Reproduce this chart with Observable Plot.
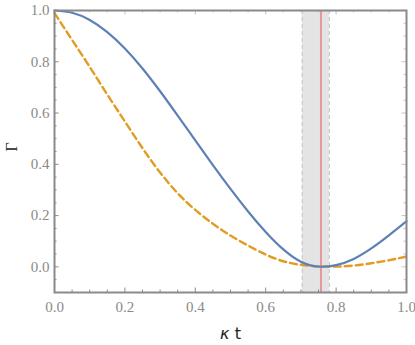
<!DOCTYPE html>
<html><head><meta charset="utf-8">
<script src="https://cdn.jsdelivr.net/npm/d3@7"></script>
<script src="https://cdn.jsdelivr.net/npm/@observablehq/plot@0.6"></script>
<style>body{margin:0;background:#fff}</style>
</head><body><div id="chart"></div>
<script>
// data
const kt          = [0, 0.05, 0.1, 0.15, 0.2, 0.25, 0.3, 0.35, 0.4, 0.45, 0.5, 0.55, 0.6, 0.65, 0.7, 0.75, 0.8, 0.85, 0.9, 0.95, 1.0];
const gammaSolid  = [1.0, 0.991, 0.963, 0.916, 0.852, 0.774, 0.685, 0.59, 0.493, 0.397, 0.304, 0.216, 0.136, 0.068, 0.02, 0.001, 0.007, 0.031, 0.072, 0.123, 0.178];
const gammaDashed = [0.99, 0.885, 0.78, 0.672, 0.567, 0.463, 0.368, 0.287, 0.222, 0.168, 0.122, 0.083, 0.048, 0.022, 0.008, 0.002, 0.001, 0.005, 0.014, 0.026, 0.04];
const xTicksMajor = [0, 0.2, 0.4, 0.6, 0.8, 1.0];
const xTicksMinor = [0.05, 0.1, 0.15, 0.25, 0.3, 0.35, 0.45, 0.5, 0.55, 0.65, 0.7, 0.75, 0.85, 0.9, 0.95];
const yTicksMajor = [0, 0.2, 0.4, 0.6, 0.8, 1.0];
const yTicksMinor = [-0.1, -0.05, 0.05, 0.1, 0.15, 0.25, 0.3, 0.35, 0.45, 0.5, 0.55, 0.65, 0.7, 0.75, 0.85, 0.9, 0.95];
const bandRange   = [0.704, 0.781];
const markerX     = [0.757];
const xLabel = "κ t";
const yLabel = "Γ";

const W = 415, H = 345, mL = 54, mR = 9, mT = 10, mB = 53;
const xPx = 1 / (W - mL - mR), yPx = 1.1 / (H - mT - mB);
const solid = kt.map((x, i) => ({x, y: gammaSolid[i]}));
const dashed = kt.map((x, i) => ({x, y: gammaDashed[i]}));
const tickCol = "#8a8a8a", mirrorCol = "#c4c4c4";
const serif = "Liberation Serif, DejaVu Serif, serif";

const svg = Plot.plot({
  width: W, height: H,
  marginLeft: mL, marginRight: mR, marginTop: mT, marginBottom: mB,
  x: {domain: [0, 1]},
  y: {domain: [-0.1, 1.0]},
  style: {background: "#fff"},
  marks: [
    Plot.rect([bandRange], {x1: d => d[0], x2: d => d[1], y1: -0.1, y2: 1.0, fill: "#e4e4e4"}),
    Plot.ruleX(bandRange, {x: d => d, stroke: "#cacaca", strokeWidth: 1.2, strokeDasharray: "4,3"}),
    Plot.ruleX(markerX, {x: d => d, stroke: "#e8979b", strokeWidth: 2}),
    // ticks (inward)
    Plot.ruleX(xTicksMajor, {x: d => d, y1: -0.1, y2: -0.1 + 4.5 * yPx, stroke: tickCol}),
    Plot.ruleX(xTicksMinor, {x: d => d, y1: -0.1, y2: -0.1 + 2.5 * yPx, stroke: tickCol}),
    Plot.ruleX(xTicksMajor, {x: d => d, y1: 1.0, y2: 1.0 - 4.5 * yPx, stroke: mirrorCol}),
    Plot.ruleX(xTicksMinor, {x: d => d, y1: 1.0, y2: 1.0 - 2.5 * yPx, stroke: mirrorCol}),
    Plot.ruleY(yTicksMajor, {y: d => d, x1: 0, x2: 4.5 * xPx, stroke: tickCol}),
    Plot.ruleY(yTicksMinor, {y: d => d, x1: 0, x2: 2.5 * xPx, stroke: tickCol}),
    Plot.ruleY(yTicksMajor, {y: d => d, x1: 1, x2: 1 - 4.5 * xPx, stroke: mirrorCol}),
    Plot.ruleY(yTicksMinor, {y: d => d, x1: 1, x2: 1 - 2.5 * xPx, stroke: mirrorCol}),
    Plot.line(dashed, {x: "x", y: "y", stroke: "#e19c24", strokeWidth: 2.4, strokeDasharray: "7,4", curve: "natural"}),
    Plot.line(solid, {x: "x", y: "y", stroke: "#5e81b5", strokeWidth: 2.2, curve: "natural"}),
    Plot.axisX(xTicksMajor, {tickSize: 0, tickPadding: 9, tickFormat: d => d.toFixed(1), fill: "#8a8a8a", fontSize: 15, fontFamily: serif, label: null}),
    Plot.axisY(yTicksMajor, {tickSize: 0, tickPadding: 5, tickFormat: d => d.toFixed(1), fill: "#8a8a8a", fontSize: 15, fontFamily: serif, label: null}),
    Plot.text([xLabel], {frameAnchor: "bottom", dy: 46, text: d => d, fontSize: 16, fill: "#222", fontFamily: "DejaVu Sans, sans-serif", className: "xlab"}),
    Plot.text([yLabel], {frameAnchor: "left", dx: -43, rotate: -90, text: d => d, fontSize: 16, fill: "#222", fontFamily: serif}),
    Plot.frame({stroke: "#8a8a8a", strokeWidth: 2})
  ]
});
document.getElementById("chart").appendChild(svg);
d3.select(svg).selectAll(".xlab text").html('<tspan font-style="italic">κ</tspan> t');
</script>
</body></html>
